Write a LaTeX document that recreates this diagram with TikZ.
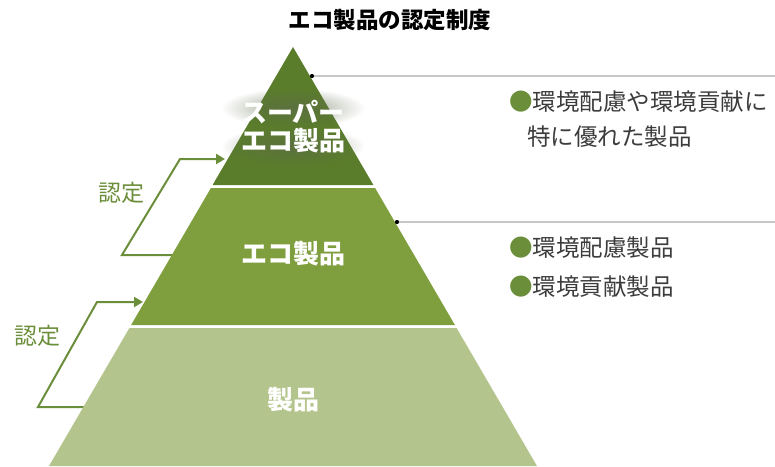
\documentclass[tikz,border=0pt]{standalone}
\usepackage{fontspec}
\newfontfamily\jp{Noto Sans CJK JP}
\usetikzlibrary{arrows.meta,fadings}
\definecolor{tierA}{HTML}{5A7D2B}
\definecolor{tierB}{HTML}{7F9E3E}
\definecolor{tierC}{HTML}{B3C48C}
\definecolor{brk}{HTML}{6B8E3A}
\definecolor{txt}{HTML}{3C3C3C}
\definecolor{rule}{HTML}{C8C8C8}
\definecolor{glowc}{HTML}{5E6A4A}
\tikzfading[name=softglow, inner color=transparent!35, outer color=transparent!100]
\tikzset{
  tierlabel/.style={text=white,font=\jp\bfseries\fontsize{26}{30}\selectfont,align=center,inner sep=0pt},
  desc/.style={text=txt,font=\jp\fontsize{23.5}{33}\selectfont,anchor=west,inner sep=0pt,align=left},
  nintei/.style={text=brk,font=\jp\fontsize{23}{26}\selectfont,inner sep=0pt},
  bracket/.style={draw=brk,line width=2pt,-{Triangle[length=9pt,width=10pt]}},
  leader/.style={draw=rule,line width=1.5pt},
  dotpt/.style={circle,fill=black,inner sep=0pt,minimum size=4pt},
}
\begin{document}
\begin{tikzpicture}[x=1pt,y=-1pt]
\useasboundingbox (0,0) rectangle (775,466);
% title
\node[font=\jp\bfseries\fontsize{22.5}{26}\selectfont,inner sep=0pt] (title) at (390,20) {エコ製品の認定制度};
% bracket coordinates
\coordinate (b1s) at (175,255);
\coordinate (b1a) at (122,255);
\coordinate (b1b) at (180,159);
\coordinate (b1e) at (225,159);
\coordinate (b2s) at (88,407);
\coordinate (b2a) at (38,407);
\coordinate (b2b) at (97,302);
\coordinate (b2e) at (143,302);
\draw[bracket] (b1s) -- (b1a) -- (b1b) -- (b1e);
\draw[bracket] (b2s) -- (b2a) -- (b2b) -- (b2e);
\node[nintei] (n1) at (121,193) {認定};
\node[nintei] (n2) at (37,336) {認定};
% pyramid tiers
\coordinate (apex) at (293,47);
\fill[tierA] (apex) -- (373.4,185) -- (212.6,185) -- cycle;
\fill[tierB] (210.9,188) -- (375.1,188) -- (454.9,325) -- (131.1,325) -- cycle;
\fill[tierC] (129.4,328) -- (456.6,328) -- (537,466) -- (49,466) -- cycle;
% soft glow behind the top label
\fill[glowc, path fading=softglow] (293,108) ellipse [x radius=72, y radius=20];
\fill[glowc, path fading=softglow] (293,146) ellipse [x radius=72, y radius=20];
\node[tierlabel] (super) at (293,127) {スーパー\\[-2pt]エコ製品};
\node[tierlabel] (eco) at (293,254) {エコ製品};
\node[tierlabel] (prod) at (293,400) {製品};
% leader lines
\node[dotpt] (d1) at (312,76) {};
\coordinate (e1) at (775,76);
\node[dotpt] (d2) at (397,222) {};
\coordinate (e2) at (775,222);
\draw[leader] (d1.center) -- (e1);
\draw[leader] (d2.center) -- (e2);
\node[dotpt] at (312,76) {};
\node[dotpt] at (397,222) {};
% descriptions
\node[desc] (t1) at (509,102) {\textcolor{brk}{●}環境配慮や環境貢献に};
\node[desc] (t1b) at (527,137) {特に優れた製品};
\node[desc] (t2) at (509,248) {\textcolor{brk}{●}環境配慮製品};
\node[desc] (t3) at (509,287) {\textcolor{brk}{●}環境貢献製品};
\end{tikzpicture}
\end{document}
